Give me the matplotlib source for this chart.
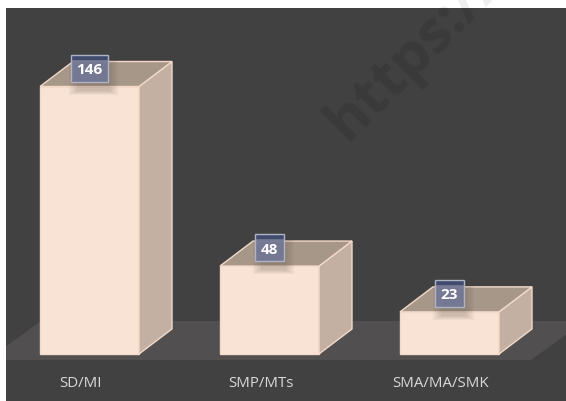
import numpy as np
from matplotlib import pyplot as plt
from matplotlib.patches import Polygon, Rectangle

categories = ["SD/MI", "SMP/MTs", "SMA/MA/SMK"]
values = [146, 48, 23]

W, H = 566, 402
px_per_unit = 267.5 / 146.0
px_per_cat = 180.0
depth_x = 33 / px_per_cat
depth_y = 25 / px_per_unit
bar_w = 99 / px_per_cat

face = "#f9e3d5"
side = "#c3b0a3"
top = "#a69789"
edge = "#f3d9c8"
dark = "#414141"

plt.rcParams['font.family'] = ['Open Sans', 'DejaVu Sans']

fig = plt.figure(figsize=(W / 100, H / 100), dpi=100, facecolor="white")

# background panel, in pixels
panel = Rectangle((6 / W, 0), 560 / W, 393 / H, transform=fig.transFigure,
                  facecolor=dark, edgecolor="none", zorder=-5)
fig.patches.append(panel)

# axes bottom sits on the bar base, left edge on the panel
ax = fig.add_axes([6 / W, (H - 355) / H, 560 / W, 346 / H])
ax.patch.set_visible(False)
ax.set_xlim((6 - 89.5) / px_per_cat, (566 - 89.5) / px_per_cat)
ax.set_ylim(0, 346 / px_per_unit)
for s in ax.spines.values():
    s.set_visible(False)

# watermark: dark over the panel, pale over the white strip above it
wm_dark = fig.text(414 / W, (H - 54) / H, "https://", rotation=45, rotation_mode="anchor",
                   ha="center", va="center", fontsize=42, fontweight="bold",
                   color="#3a3a3a", zorder=-4)
wm_dark.set_clip_path(Rectangle((6 / W, 0), 560 / W, 393 / H, transform=fig.transFigure))
wm_pale = fig.text(414 / W, (H - 54) / H, "https://", rotation=45, rotation_mode="anchor",
                   ha="center", va="center", fontsize=42, fontweight="bold",
                   color="#eeeeee", zorder=-4)
wm_pale.set_clip_path(Rectangle((0, 393 / H), 1, 9 / H, transform=fig.transFigure))

# floor
floor_y0 = -6 / px_per_unit
floor_y1 = 33 / px_per_unit
fx = [(-13 - 89.5) / px_per_cat, (531 - 89.5) / px_per_cat,
      (585 - 89.5) / px_per_cat, (41 - 89.5) / px_per_cat]
floor = Polygon(list(zip(fx, [floor_y0, floor_y0, floor_y1, floor_y1])),
                facecolor="#524f50", edgecolor="none", zorder=1)
ax.add_patch(floor)
floor.set_clip_path(Rectangle((6 / W, 0), 560 / W, 393 / H, transform=fig.transFigure))

xs = np.arange(len(values))
ax.bar(xs, values, width=bar_w, color=face, edgecolor=edge, linewidth=1, zorder=3, clip_on=False)

for x, v in zip(xs, values):
    r = x + bar_w / 2
    l = x - bar_w / 2
    ax.add_patch(Polygon([(r, 0), (r + depth_x, depth_y), (r + depth_x, v + depth_y), (r, v)],
                         facecolor=side, edgecolor=edge, linewidth=1, zorder=3, clip_on=False))
    ax.add_patch(Polygon([(l, v), (r, v), (r + depth_x, v + depth_y), (l + depth_x, v + depth_y)],
                         facecolor=top, edgecolor=edge, linewidth=1, zorder=3, clip_on=False))

    by = v + 5 / px_per_unit
    bh = 27 / px_per_unit
    bw = 37 / px_per_cat if v >= 100 else 29 / px_per_cat

    # soft shadow, offset to the lower right of the label box
    for grow in range(0, 10, 2):
        g = grow / px_per_cat
        gy = grow / px_per_unit
        ax.add_patch(Rectangle((x - bw / 2 + 6 / px_per_cat - g, by - 9 / px_per_unit - gy / 2),
                               bw + 2 * g - 4 / px_per_cat, bh + gy,
                               facecolor="#4a4038", alpha=0.05, edgecolor="none", zorder=4))

    # label box with a dark strip along its top
    ax.add_patch(Rectangle((x - bw / 2, by), bw, bh, facecolor="#737896", alpha=0.92,
                           edgecolor="none", zorder=5))
    ax.add_patch(Rectangle((x - bw / 2, by + bh - 5 / px_per_unit), bw, 5 / px_per_unit,
                           facecolor="#3f4c6e", edgecolor="none", zorder=6))
    ax.add_patch(Rectangle((x - bw / 2, by), bw, bh, facecolor="none", edgecolor="#b0b3c4",
                           linewidth=1, zorder=6))
    ax.text(x, by + 12.5 / px_per_unit, str(v), ha="center", va="center", color="white",
            fontsize=11, fontweight="bold", zorder=7)

ax.set_yticks([])
ax.set_xticks(xs - 9 / px_per_cat)
ax.set_xticklabels(categories, fontsize=10.8, color="#d9d9d9")
ax.tick_params(axis="x", length=0, pad=15)

fig.savefig("out.png", dpi=100)
